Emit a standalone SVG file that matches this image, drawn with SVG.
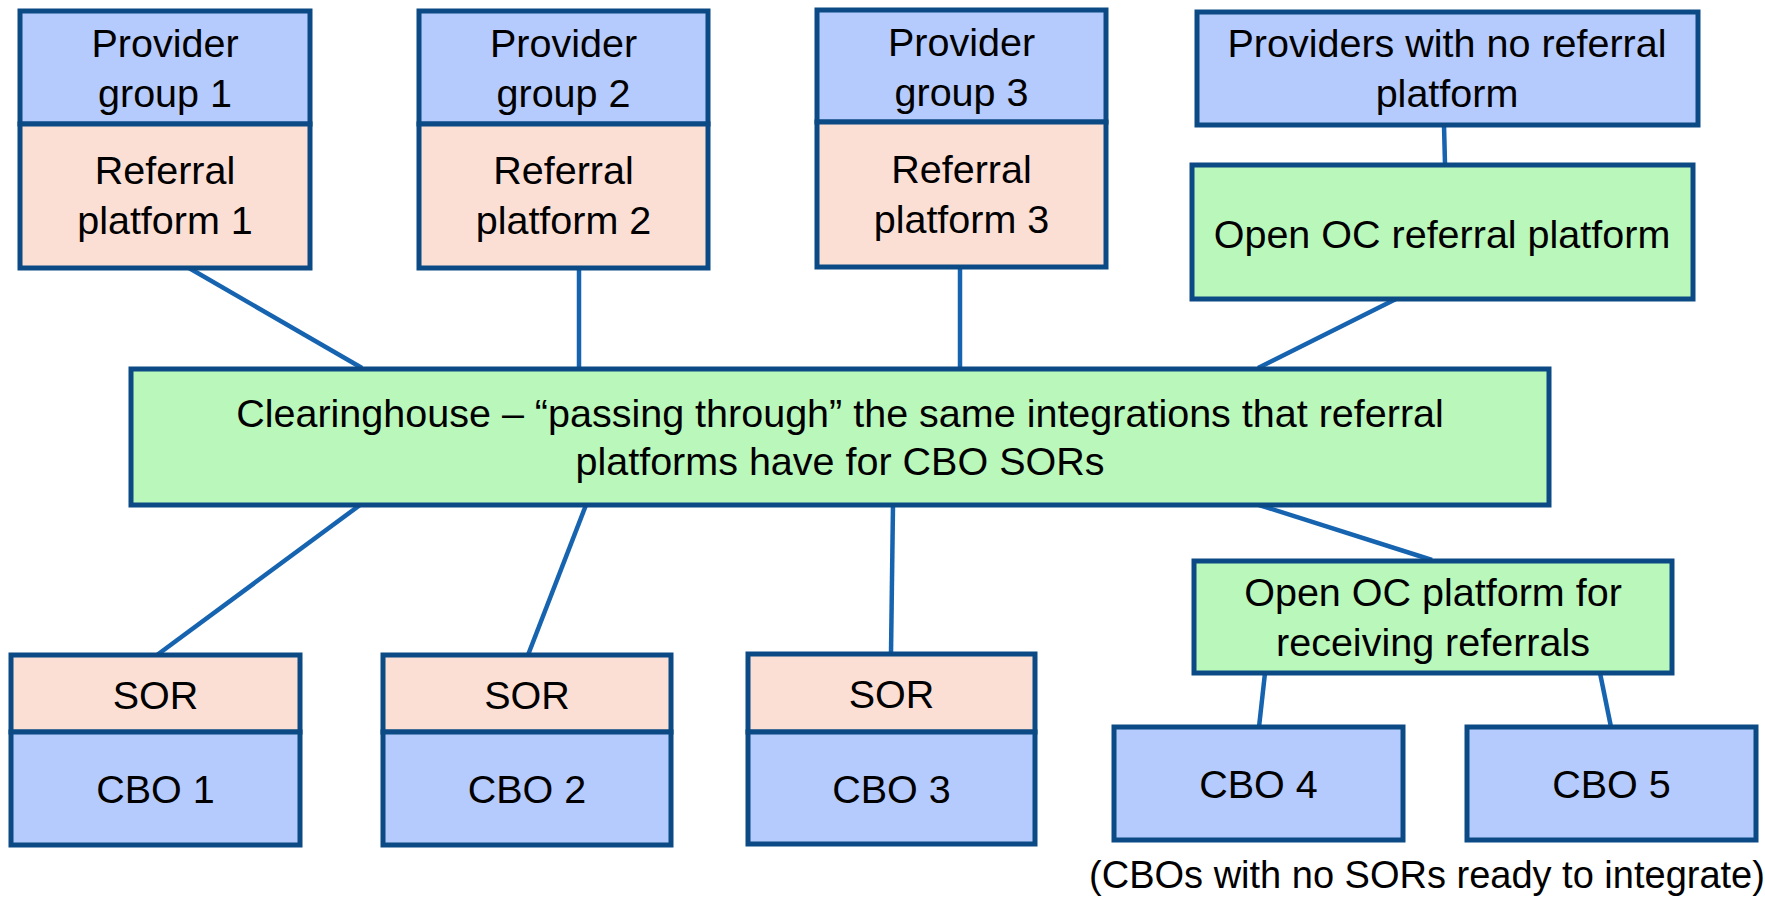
<svg xmlns="http://www.w3.org/2000/svg" width="1765" height="897" viewBox="0 0 1765 897">
<style>
.b{fill:#b5cbfd;stroke:#0b4a84;stroke-width:5}
.p{fill:#fbdfd5;stroke:#0b4a84;stroke-width:5}
.g{fill:#baf7bb;stroke:#0b4a84;stroke-width:5}
.t{font-family:"Liberation Sans",Arial,sans-serif;font-size:39.5px;fill:#000;text-anchor:middle}
.cap{font-size:38px}
.c line{stroke:#1663b0;stroke-width:4.5}
</style>
<rect width="1765" height="897" fill="#fff"/>
<g class="c" id="connectors">
<line x1="189" y1="268" x2="362" y2="368"/>
<line x1="579" y1="268" x2="579" y2="368"/>
<line x1="960" y1="267" x2="960" y2="368"/>
<line x1="1444" y1="125" x2="1445" y2="164"/>
<line x1="1396" y1="299" x2="1258" y2="368"/>
<line x1="360" y1="505" x2="157" y2="655"/>
<line x1="586" y1="505" x2="528" y2="655"/>
<line x1="893" y1="505" x2="891" y2="654"/>
<line x1="1259" y1="505" x2="1432" y2="560"/>
<line x1="1265" y1="673" x2="1259" y2="727"/>
<line x1="1600" y1="673" x2="1611" y2="727"/>
</g>
<g id="pg1">
<rect class="b" x="20" y="11" width="290" height="113"/>
<text class="t" x="165" y="57">Provider</text>
<text class="t" x="165" y="107">group 1</text>
</g>
<g id="rp1">
<rect class="p" x="20" y="124" width="290" height="144"/>
<text class="t" x="165" y="184">Referral</text>
<text class="t" x="165" y="234">platform 1</text>
</g>
<g id="pg2">
<rect class="b" x="419" y="11" width="289" height="113"/>
<text class="t" x="563.5" y="57">Provider</text>
<text class="t" x="563.5" y="107">group 2</text>
</g>
<g id="rp2">
<rect class="p" x="419" y="124" width="289" height="144"/>
<text class="t" x="563.5" y="184">Referral</text>
<text class="t" x="563.5" y="234">platform 2</text>
</g>
<g id="pg3">
<rect class="b" x="817" y="10" width="289" height="112"/>
<text class="t" x="961.5" y="56">Provider</text>
<text class="t" x="961.5" y="106">group 3</text>
</g>
<g id="rp3">
<rect class="p" x="817" y="122" width="289" height="145"/>
<text class="t" x="961.5" y="183">Referral</text>
<text class="t" x="961.5" y="233">platform 3</text>
</g>
<g id="pnone">
<rect class="b" x="1197" y="12" width="501" height="113"/>
<text class="t" x="1447" y="57">Providers with no referral</text>
<text class="t" x="1447" y="107">platform</text>
</g>
<g id="openoc">
<rect class="g" x="1192" y="165" width="501" height="134"/>
<text class="t" x="1442" y="248">Open OC referral platform</text>
</g>
<g id="clearinghouse">
<rect class="g" x="131" y="369" width="1418" height="136"/>
<text class="t" x="840" y="427">Clearinghouse – “passing through” the same integrations that referral</text>
<text class="t" x="840" y="475">platforms have for CBO SORs</text>
</g>
<g id="cbo1">
<rect class="p" x="11" y="655" width="289" height="77"/>
<text class="t" x="155.5" y="709">SOR</text>
<rect class="b" x="11" y="732" width="289" height="113"/>
<text class="t" x="155.5" y="803">CBO 1</text>
</g>
<g id="cbo2">
<rect class="p" x="383" y="655" width="288" height="77"/>
<text class="t" x="527" y="709">SOR</text>
<rect class="b" x="383" y="732" width="288" height="113"/>
<text class="t" x="527" y="803">CBO 2</text>
</g>
<g id="cbo3">
<rect class="p" x="748" y="654" width="287" height="78"/>
<text class="t" x="891.5" y="708">SOR</text>
<rect class="b" x="748" y="732" width="287" height="112"/>
<text class="t" x="891.5" y="803">CBO 3</text>
</g>
<g id="openrecv">
<rect class="g" x="1194" y="561" width="478" height="112"/>
<text class="t" x="1433" y="606">Open OC platform for</text>
<text class="t" x="1433" y="656">receiving referrals</text>
</g>
<g id="cbo4">
<rect class="b" x="1114" y="727" width="289" height="113"/>
<text class="t" x="1258.5" y="798">CBO 4</text>
</g>
<g id="cbo5">
<rect class="b" x="1467" y="727" width="289" height="113"/>
<text class="t" x="1611.5" y="798">CBO 5</text>
</g>
<text class="t cap" x="1427" y="888">(CBOs with no SORs ready to integrate)</text>
</svg>
